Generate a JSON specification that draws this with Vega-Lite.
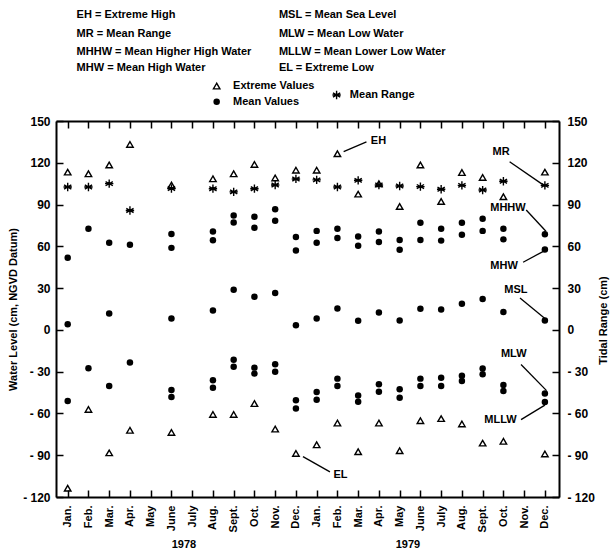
{
  "$schema": "https://vega.github.io/schema/vega-lite/v6.json",
  "width": 503,
  "height": 376,
  "autosize": {"type": "none"},
  "padding": {"left": 56, "top": 121, "right": 51, "bottom": 55},
  "background": "white",
  "config": {
    "view": {"stroke": null},
    "font": "Liberation Sans",
    "text": {"font": "Liberation Sans", "fontWeight": "bold", "fontSize": 11, "color": "black"},
    "axis": {
      "grid": false,
      "domainColor": "black",
      "domainWidth": 2,
      "tickColor": "black",
      "tickWidth": 1.5,
      "tickSize": -7,
      "labelColor": "black",
      "labelFont": "Liberation Sans",
      "labelFontWeight": "bold",
      "titleFont": "Liberation Sans",
      "titleFontWeight": "bold",
      "titleColor": "black",
      "titleFontSize": 11
    }
  },
  "datasets": {
    "ext": [
      {"m": 0, "v": 113.3}, {"m": 0, "v": -113.7},
      {"m": 1, "v": 112.1}, {"m": 1, "v": -57.1},
      {"m": 2, "v": 118.4}, {"m": 2, "v": -88.3},
      {"m": 3, "v": 133.2}, {"m": 3, "v": -72.1},
      {"m": 5, "v": 104}, {"m": 5, "v": -73.6},
      {"m": 7, "v": 108.5}, {"m": 7, "v": -60.7},
      {"m": 8, "v": 112.1}, {"m": 8, "v": -60.7},
      {"m": 9, "v": 118.8}, {"m": 9, "v": -52.9},
      {"m": 10, "v": 109.1}, {"m": 10, "v": -71.2},
      {"m": 11, "v": 114.7}, {"m": 11, "v": -88.7},
      {"m": 12, "v": 114.7}, {"m": 12, "v": -82.5},
      {"m": 13, "v": 126.5}, {"m": 13, "v": -66.9},
      {"m": 14, "v": 97.5}, {"m": 14, "v": -87.5},
      {"m": 15, "v": 105}, {"m": 15, "v": -66.9},
      {"m": 16, "v": 88.6}, {"m": 16, "v": -86.8},
      {"m": 17, "v": 118.4}, {"m": 17, "v": -65.2},
      {"m": 18, "v": 92.2}, {"m": 18, "v": -63.7},
      {"m": 19, "v": 113}, {"m": 19, "v": -67.5},
      {"m": 20, "v": 109.5}, {"m": 20, "v": -81.3},
      {"m": 21, "v": 95.6}, {"m": 21, "v": -80},
      {"m": 23, "v": 113.3}, {"m": 23, "v": -89.1}
    ],
    "rng": [
      {"m": 0, "v": 102.6}, {"m": 1, "v": 102.6}, {"m": 2, "v": 105}, {"m": 3, "v": 85.7},
      {"m": 5, "v": 101.5}, {"m": 7, "v": 101.4}, {"m": 8, "v": 99.1}, {"m": 9, "v": 101.4},
      {"m": 10, "v": 104}, {"m": 11, "v": 108.4}, {"m": 12, "v": 107.7}, {"m": 13, "v": 102.6},
      {"m": 14, "v": 107.4}, {"m": 15, "v": 104}, {"m": 16, "v": 103.3}, {"m": 17, "v": 102.9},
      {"m": 18, "v": 101}, {"m": 19, "v": 103.8}, {"m": 20, "v": 100.4}, {"m": 21, "v": 106.7},
      {"m": 23, "v": 103.8}
    ],
    "mean": [
      {"m": 0, "v": 51.8}, {"m": 0, "v": 4}, {"m": 0, "v": -51.1},
      {"m": 1, "v": 72.6}, {"m": 1, "v": -27.6},
      {"m": 2, "v": 62.6}, {"m": 2, "v": 11.8}, {"m": 2, "v": -40.3},
      {"m": 3, "v": 61.2}, {"m": 3, "v": -23.5},
      {"m": 5, "v": 68.9}, {"m": 5, "v": 58.9}, {"m": 5, "v": 8.2}, {"m": 5, "v": -43.2}, {"m": 5, "v": -48.2},
      {"m": 7, "v": 70.7}, {"m": 7, "v": 64.3}, {"m": 7, "v": 13.9}, {"m": 7, "v": -36.2}, {"m": 7, "v": -41.5},
      {"m": 8, "v": 82.1}, {"m": 8, "v": 77.1}, {"m": 8, "v": 28.8}, {"m": 8, "v": -21.4}, {"m": 8, "v": -26.4},
      {"m": 9, "v": 81.2}, {"m": 9, "v": 73.3}, {"m": 9, "v": 23.8}, {"m": 9, "v": -27.1}, {"m": 9, "v": -31.4},
      {"m": 10, "v": 86.7}, {"m": 10, "v": 78.3}, {"m": 10, "v": 26.5}, {"m": 10, "v": -24.7}, {"m": 10, "v": -30},
      {"m": 11, "v": 66.7}, {"m": 11, "v": 57}, {"m": 11, "v": 3.3}, {"m": 11, "v": -50.6}, {"m": 11, "v": -56.4},
      {"m": 12, "v": 71.1}, {"m": 12, "v": 62.6}, {"m": 12, "v": 8.2}, {"m": 12, "v": -44.6}, {"m": 12, "v": -50.2},
      {"m": 13, "v": 72.6}, {"m": 13, "v": 66}, {"m": 13, "v": 15.3}, {"m": 13, "v": -35}, {"m": 13, "v": -40.3},
      {"m": 14, "v": 67.1}, {"m": 14, "v": 60.5}, {"m": 14, "v": 6.6}, {"m": 14, "v": -47.1}, {"m": 14, "v": -51.6},
      {"m": 15, "v": 70.7}, {"m": 15, "v": 63.1}, {"m": 15, "v": 12.5}, {"m": 15, "v": -39.1}, {"m": 15, "v": -44.4},
      {"m": 16, "v": 64.5}, {"m": 16, "v": 57.5}, {"m": 16, "v": 6.8}, {"m": 16, "v": -42.7}, {"m": 16, "v": -48.7},
      {"m": 17, "v": 76.9}, {"m": 17, "v": 64.5}, {"m": 17, "v": 15.1}, {"m": 17, "v": -35}, {"m": 17, "v": -40.3},
      {"m": 18, "v": 72.6}, {"m": 18, "v": 64.1}, {"m": 18, "v": 14.6}, {"m": 18, "v": -34.3}, {"m": 18, "v": -40.3},
      {"m": 19, "v": 76.9}, {"m": 19, "v": 68.4}, {"m": 19, "v": 18.7}, {"m": 19, "v": -32.9}, {"m": 19, "v": -36.7},
      {"m": 20, "v": 79.8}, {"m": 20, "v": 71.1}, {"m": 20, "v": 22.2}, {"m": 20, "v": -27.8}, {"m": 20, "v": -31.9},
      {"m": 21, "v": 72.6}, {"m": 21, "v": 65}, {"m": 21, "v": 12.8}, {"m": 21, "v": -39.6}, {"m": 21, "v": -43.9},
      {"m": 23, "v": 68.6}, {"m": 23, "v": 57.7}, {"m": 23, "v": 6.8}, {"m": 23, "v": -45.6}, {"m": 23, "v": -51.8}
    ],
    "labels": [
      {"m": 14.98, "v": 135.6, "t": "EH"},
      {"m": 13.15, "v": -104.5, "t": "EL"},
      {"m": 20.89, "v": 127.7, "t": "MR"},
      {"m": 21.22, "v": 87.6, "t": "MHHW"},
      {"m": 21.03, "v": 46.1, "t": "MHW"},
      {"m": 21.6, "v": 28.6, "t": "MSL"},
      {"m": 21.5, "v": -17, "t": "MLW"},
      {"m": 20.86, "v": -64.6, "t": "MLLW"}
    ],
    "arrows": [
      {"m": 14.4, "v": 135, "m2": 13.3, "v2": 128},
      {"m": 12.64, "v": -102, "m2": 11.34, "v2": -91},
      {"m": 21.3, "v": 120.7, "m2": 22.9, "v2": 104.3},
      {"m": 22.1, "v": 86.1, "m2": 23.05, "v2": 70.8},
      {"m": 21.95, "v": 48.6, "m2": 22.95, "v2": 56.6},
      {"m": 21.8, "v": 22.9, "m2": 23.0, "v2": 8.2},
      {"m": 21.85, "v": -24.9, "m2": 23.08, "v2": -43.6},
      {"m": 21.85, "v": -64.4, "m2": 23.0, "v2": -54}
    ],
    "legend": [
      {"m": 0.43, "v": 226.1, "t": "EH = Extreme High"},
      {"m": 0.43, "v": 212.5, "t": "MR = Mean Range"},
      {"m": 0.43, "v": 199.8, "t": "MHHW = Mean Higher High Water"},
      {"m": 0.43, "v": 187.8, "t": "MHW = Mean High Water"},
      {"m": 10.18, "v": 226.1, "t": "MSL = Mean Sea Level"},
      {"m": 10.18, "v": 212.5, "t": "MLW = Mean Low Water"},
      {"m": 10.18, "v": 199.8, "t": "MLLW = Mean Lower Low Water"},
      {"m": 10.18, "v": 187.8, "t": "EL = Extreme Low"},
      {"m": 7.97, "v": 175.1, "t": "Extreme Values"},
      {"m": 7.97, "v": 163.9, "t": "Mean Values"},
      {"m": 13.6, "v": 168.7, "t": "Mean Range"}
    ],
    "years": [
      {"m": 5.6, "v": -154.5, "t": "1978"},
      {"m": 16.4, "v": -154.5, "t": "1979"}
    ]
  },
  "layer": [
    {
      "data": {"name": "ext"},
      "mark": {"type": "point", "shape": "triangle-up", "filled": false, "stroke": "black", "strokeWidth": 1.4, "size": 42, "opacity": 1},
      "encoding": {
        "x": {
          "field": "m", "type": "quantitative",
          "scale": {"domain": [-0.564, 23.68], "nice": false, "zero": false},
          "axis": {
            "orient": "bottom",
            "values": [0,1,2,3,4,5,6,7,8,9,10,11,12,13,14,15,16,17,18,19,20,21,22,23],
            "labelExpr": "['Jan.','Feb.','Mar.','Apr.','May','June','July','Aug.','Sept.','Oct.','Nov.','Dec.'][datum.value % 12]",
            "labelAngle": 270,
            "labelAlign": "right",
            "labelBaseline": "middle",
            "labelPadding": 15,
            "labelFontSize": 11,
            "labelOverlap": false,
            "labelFlush": false,
            "title": null
          }
        },
        "y": {
          "field": "v", "type": "quantitative",
          "scale": {"domain": [-120, 150], "nice": false, "zero": false},
          "axis": {
            "orient": "left",
            "values": [-120, -90, -60, -30, 0, 30, 60, 90, 120, 150],
            "labelExpr": "datum.value < 0 ? '- ' + abs(datum.value) : datum.label",
            "labelPadding": 13,
            "labelFontSize": 12,
            "labelFlush": false,
            "labelOverlap": false,
            "title": "Water Level (cm, NGVD Datum)",
            "titleAngle": 270,
            "titleX": -43,
            "titleY": 188,
            "titleAlign": "center",
            "titleBaseline": "middle"
          }
        }
      }
    },
    {
      "data": {"name": "mean"},
      "mark": {"type": "point", "shape": "circle", "filled": true, "color": "black", "size": 42, "opacity": 1},
      "encoding": {
        "x": {
          "field": "m", "type": "quantitative",
          "scale": {"domain": [-0.564, 23.68], "nice": false, "zero": false},
          "axis": {
            "orient": "top",
            "values": [0,1,2,3,4,5,6,7,8,9,10,11,12,13,14,15,16,17,18,19,20,21,22,23],
            "labels": false,
            "title": null
          }
        },
        "y": {
          "field": "v", "type": "quantitative",
          "scale": {"domain": [-120, 150], "nice": false, "zero": false},
          "axis": {
            "orient": "right",
            "values": [-120, -90, -60, -30, 0, 30, 60, 90, 120, 150],
            "labelExpr": "datum.value < 0 ? '- ' + abs(datum.value) : datum.label",
            "labelPadding": 15,
            "labelAlign": "left",
            "labelFontSize": 12,
            "labelFlush": false,
            "labelOverlap": false,
            "title": "Tidal Range (cm)",
            "titleAngle": 270,
            "titleX": 44,
            "titleY": 199,
            "titleAlign": "center",
            "titleBaseline": "middle"
          }
        }
      }
    },
    {
      "data": {"name": "rng"},
      "mark": {"type": "point", "shape": "M0,-1L0,1M-0.87,-0.5L0.87,0.5M-0.87,0.5L0.87,-0.5M-1,0L1,0", "filled": false, "stroke": "black", "strokeWidth": 1.4, "size": 70, "opacity": 1},
      "encoding": {
        "x": {"field": "m", "type": "quantitative", "scale": {"domain": [-0.564, 23.68], "nice": false, "zero": false}, "axis": null},
        "y": {"field": "v", "type": "quantitative", "scale": {"domain": [-120, 150], "nice": false, "zero": false}, "axis": null}
      }
    },
    {
      "data": {"name": "arrows"},
      "mark": {"type": "rule", "color": "black", "strokeWidth": 1.3},
      "encoding": {
        "x": {"field": "m", "type": "quantitative", "scale": {"domain": [-0.564, 23.68], "nice": false, "zero": false}, "axis": null},
        "y": {"field": "v", "type": "quantitative", "scale": {"domain": [-120, 150], "nice": false, "zero": false}, "axis": null},
        "x2": {"field": "m2"},
        "y2": {"field": "v2"}
      }
    },
    {
      "data": {"name": "labels"},
      "mark": {"type": "text", "align": "center", "baseline": "middle", "fontSize": 11, "fontWeight": "bold", "color": "black"},
      "encoding": {
        "x": {"field": "m", "type": "quantitative", "scale": {"domain": [-0.564, 23.68], "nice": false, "zero": false}, "axis": null},
        "y": {"field": "v", "type": "quantitative", "scale": {"domain": [-120, 150], "nice": false, "zero": false}, "axis": null},
        "text": {"field": "t"}
      }
    },
    {
      "data": {"name": "legend"},
      "mark": {"type": "text", "align": "left", "baseline": "middle", "fontSize": 11, "fontWeight": "bold", "color": "black"},
      "encoding": {
        "x": {"field": "m", "type": "quantitative", "scale": {"domain": [-0.564, 23.68], "nice": false, "zero": false}, "axis": null},
        "y": {"field": "v", "type": "quantitative", "scale": {"domain": [-120, 150], "nice": false, "zero": false}, "axis": null},
        "text": {"field": "t"}
      }
    },
    {
      "data": {"name": "years"},
      "mark": {"type": "text", "align": "center", "baseline": "middle", "fontSize": 11, "fontWeight": "bold", "color": "black"},
      "encoding": {
        "x": {"field": "m", "type": "quantitative", "scale": {"domain": [-0.564, 23.68], "nice": false, "zero": false}, "axis": null},
        "y": {"field": "v", "type": "quantitative", "scale": {"domain": [-120, 150], "nice": false, "zero": false}, "axis": null},
        "text": {"field": "t"}
      }
    },
    {
      "data": {"values": [{"m": 7.18, "v": 175.1}]},
      "mark": {"type": "point", "shape": "triangle-up", "filled": false, "stroke": "black", "strokeWidth": 1.4, "size": 42, "opacity": 1},
      "encoding": {
        "x": {"field": "m", "type": "quantitative", "scale": {"domain": [-0.564, 23.68], "nice": false, "zero": false}, "axis": null},
        "y": {"field": "v", "type": "quantitative", "scale": {"domain": [-120, 150], "nice": false, "zero": false}, "axis": null}
      }
    },
    {
      "data": {"values": [{"m": 7.18, "v": 163.9}]},
      "mark": {"type": "point", "shape": "circle", "filled": true, "color": "black", "size": 42, "opacity": 1},
      "encoding": {
        "x": {"field": "m", "type": "quantitative", "scale": {"domain": [-0.564, 23.68], "nice": false, "zero": false}, "axis": null},
        "y": {"field": "v", "type": "quantitative", "scale": {"domain": [-120, 150], "nice": false, "zero": false}, "axis": null}
      }
    },
    {
      "data": {"values": [{"m": 12.96, "v": 168.7}]},
      "mark": {"type": "point", "shape": "M0,-1L0,1M-0.87,-0.5L0.87,0.5M-0.87,0.5L0.87,-0.5M-1,0L1,0", "filled": false, "stroke": "black", "strokeWidth": 1.4, "size": 70, "opacity": 1},
      "encoding": {
        "x": {"field": "m", "type": "quantitative", "scale": {"domain": [-0.564, 23.68], "nice": false, "zero": false}, "axis": null},
        "y": {"field": "v", "type": "quantitative", "scale": {"domain": [-120, 150], "nice": false, "zero": false}, "axis": null}
      }
    }
  ],
  "resolve": {"axis": {"x": "independent", "y": "independent"}}
}
